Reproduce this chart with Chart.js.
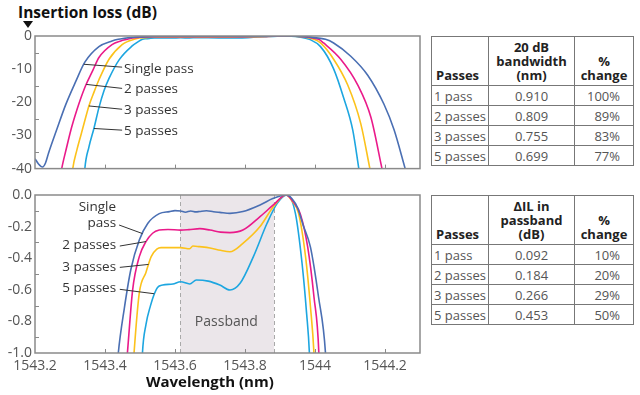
<!DOCTYPE html>
<html><head><meta charset="utf-8">
<script src="https://cdn.jsdelivr.net/npm/chart.js@4.4.1/dist/chart.umd.min.js"></script>
<style>
html,body{margin:0;padding:0;background:#fff;}
body{width:640px;height:395px;position:relative;overflow:hidden;font-family:"Open Sans",sans-serif;}
canvas{position:absolute;left:0;}
#title{position:absolute;left:18px;top:1px;font:bold 15.5px "Open Sans";line-height:22px;color:#111;white-space:nowrap;}
#tri{position:absolute;left:23px;top:21px;width:0;height:0;border-left:5px solid transparent;border-right:5px solid transparent;border-top:7px solid #111;}
#xtitle{position:absolute;left:146px;top:371px;font:bold 15px "Open Sans";line-height:21px;color:#111;white-space:nowrap;}
table{position:absolute;border-collapse:collapse;font-family:"Open Sans";font-size:13px;table-layout:fixed;}
td,th{border:1px solid #777;padding:0;overflow:hidden;white-space:nowrap;}
th{font-weight:bold;color:#222;line-height:14px;vertical-align:bottom;padding-bottom:3px;}
td{color:#555;line-height:18px;height:19px;}
.c0{text-align:left;padding-left:2px;}
.c1{text-align:center;}
.c2{text-align:right;padding-right:13px;}
</style>
</head><body>
<div id="title">Insertion loss (dB)</div>
<div id="tri"></div>
<canvas id="top" width="425" height="180" style="top:0"></canvas>
<canvas id="bot" width="425" height="215" style="top:180px"></canvas>
<div id="xtitle">Wavelength (nm)</div>
<table id="t1" style="left:431px;top:36px;width:203px"></table>
<table id="t2" style="left:431px;top:195px;width:203px"></table>
<script>
// ---------- DATA ----------
const seriesNames = ['Single pass','2 passes','3 passes','5 passes'];
const singlePass = [
[1543.2000,-37.0],[1543.2100,-38.6],[1543.2216,-39.5],[1543.2300,-38.3],[1543.2388,-35.3],[1543.2619,-28.3],[1543.2878,-20.7],[1543.3165,-13.7],[1543.3424,-7.9],[1543.3827,-3.2],[1543.4201,-1.5],[1543.4380,-1.0],[1543.4550,-0.72],[1543.4740,-0.47],[1543.4980,-0.285],[1543.5220,-0.18],[1543.5550,-0.118],[1543.5840,-0.105],[1543.6000,-0.099],[1543.6160,-0.101],[1543.6300,-0.109],[1543.6450,-0.101],[1543.6600,-0.107],[1543.6710,-0.104],[1543.6900,-0.100],[1543.7100,-0.106],[1543.7280,-0.110],[1543.7570,-0.116],[1543.7940,-0.105],[1543.8430,-0.063],[1543.8810,-0.021],[1543.9170,0.0],[1543.9350,-0.025],[1543.9500,-0.08],[1543.9660,-0.19],[1543.9870,-0.33],[1544.0100,-0.644],[1544.0300,-1.0],[1544.0532,-2.1],[1544.1022,-6.1],[1544.1511,-11.9],[1544.1971,-20.6],[1544.2259,-28.3],[1544.2576,-40.0]
];
const twoPasses = [
[1543.2700,-44.0],[1543.2763,-40.0],[1543.2906,-33.5],[1543.3022,-28.5],[1543.3137,-24.3],[1543.3252,-20.5],[1543.3453,-14.8],[1543.3655,-10.3],[1543.3827,-6.5],[1543.4201,-2.6],[1543.4450,-1.5],[1543.4640,-1.0],[1543.4790,-0.60],[1543.4980,-0.39],[1543.5170,-0.295],[1543.5360,-0.242],[1543.5550,-0.222],[1543.5800,-0.218],[1543.6160,-0.222],[1543.6400,-0.219],[1543.6710,-0.213],[1543.7000,-0.222],[1543.7300,-0.235],[1543.7570,-0.238],[1543.7940,-0.222],[1543.8430,-0.137],[1543.8810,-0.063],[1543.9170,0.0],[1543.9400,-0.05],[1543.9580,-0.12],[1543.9790,-0.327],[1543.9970,-0.644],[1544.0110,-1.0],[1544.0245,-2.1],[1544.0734,-7.0],[1544.1223,-14.8],[1544.1597,-24.5],[1544.1914,-40.0]
];
const threePasses = [
[1543.3040,-44.0],[1543.3079,-40.0],[1543.3194,-34.5],[1543.3309,-30.0],[1543.3424,-25.5],[1543.3540,-21.1],[1543.3683,-17.0],[1543.3827,-13.2],[1543.4115,-7.0],[1543.4489,-2.6],[1543.4660,-1.6],[1543.4830,-1.0],[1543.4980,-0.62],[1543.5170,-0.49],[1543.5320,-0.39],[1543.5480,-0.343],[1543.5600,-0.333],[1543.6160,-0.333],[1543.6420,-0.34],[1543.6510,-0.323],[1543.6700,-0.327],[1543.7000,-0.335],[1543.7300,-0.35],[1543.7570,-0.359],[1543.7940,-0.306],[1543.8430,-0.20],[1543.8810,-0.074],[1543.9170,0.0],[1543.9350,-0.04],[1543.9530,-0.116],[1543.9730,-0.39],[1543.9870,-0.707],[1543.9970,-1.0],[1544.0158,-2.1],[1544.0532,-7.0],[1544.0935,-14.8],[1544.1309,-26.5],[1544.1568,-40.0]
];
const fivePasses = [
[1543.3400,-44.0],[1543.3424,-40.0],[1543.3540,-33.5],[1543.3683,-27.9],[1543.3827,-21.6],[1543.3971,-16.5],[1543.4115,-12.8],[1543.4403,-7.2],[1543.4777,-3.0],[1543.4950,-1.7],[1543.5070,-1.0],[1543.5170,-0.82],[1543.5300,-0.70],[1543.5410,-0.625],[1543.5500,-0.585],[1543.5650,-0.57],[1543.5940,-0.563],[1543.6160,-0.549],[1543.6420,-0.563],[1543.6610,-0.538],[1543.6950,-0.545],[1543.7280,-0.570],[1543.7570,-0.601],[1543.7860,-0.559],[1543.8240,-0.39],[1543.8630,-0.179],[1543.8920,-0.053],[1543.9200,0.0],[1543.9440,-0.116],[1543.9630,-0.432],[1543.9760,-0.749],[1543.9840,-1.0],[1544.0158,-3.2],[1544.0532,-9.9],[1544.0820,-18.7],[1544.1079,-28.4],[1544.1252,-40.0]
];
const xTicks = [1543.2,1543.4,1543.6,1543.8,1544.0,1544.2];
const xTickLabels = ['1543.2','1543.4','1543.6','1543.8','1544','1544.2'];
const topYTicks = [0,-10,-20,-30,-40];
const topYLabels = ['0','-10','-20','-30','-40'];
const topYMinor = [-5,-15,-25,-35];
const botYTicks = [0,-0.2,-0.4,-0.6,-0.8,-1.0];
const botYLabels = ['0.0','-0.2','-0.4','-0.6','-0.8','-1.0'];
const botYMinor = [-0.1,-0.3,-0.5,-0.7,-0.9];
const passband = [1543.615,1543.883];
const passbandText = 'Passband';
// tables
const tablePasses = ['1 pass','2 passes','3 passes','5 passes'];
const bandwidth20dB = ['0.910','0.809','0.755','0.699'];
const bandwidthChange = ['100%','89%','83%','77%'];
const deltaIL = ['0.092','0.184','0.266','0.453'];
const deltaILChange = ['10%','20%','29%','50%'];

// ---------- STYLE ----------
const colors = ['#4a6fb3','#ea1a8a','#fcc21b','#1da6e0'];
const allSeries = [singlePass,twoPasses,threePasses,fivePasses];
const FONT = '"Open Sans", sans-serif';

function interpY(series, x){
  for(let i=1;i<series.length;i++){
    if(series[i][0]>=x){const a=series[i-1],b=series[i];return a[1]+(b[1]-a[1])*(x-a[0])/(b[0]-a[0]);}
  }
  return series[series.length-1][1];
}

// annotation placements (data units)
const topNotes = [
 {text:['Single pass'],s:0,cx:1543.3396,lx:1543.4489,ly:-9.4,tx:1543.4546,ty:[-9.9],align:'left'},
 {text:['2 passes'],s:1,cx:1543.3462,lx:1543.4489,ly:-15.8,tx:1543.4546,ty:[-16.0],align:'left'},
 {text:['3 passes'],s:2,cx:1543.3540,lx:1543.4489,ly:-22.1,tx:1543.4546,ty:[-22.5],align:'left'},
 {text:['5 passes'],s:3,cx:1543.3683,lx:1543.4489,ly:-28.4,tx:1543.4546,ty:[-28.6],align:'left'}
];
const botNotes = [
 {text:['Single','pass'],s:0,cx:1543.5073,lx:1543.4403,ly:-0.19,tx:1543.4317,ty:[-0.074,-0.179],align:'right'},
 {text:['2 passes'],s:1,cx:1543.5171,lx:1543.4423,ly:-0.323,tx:1543.4317,ty:[-0.316],align:'right'},
 {text:['3 passes'],s:2,cx:1543.5246,lx:1543.4423,ly:-0.458,tx:1543.4317,ty:[-0.454],align:'right'},
 {text:['5 passes'],s:3,cx:1543.5410,lx:1543.4423,ly:-0.597,tx:1543.4317,ty:[-0.59],align:'right'}
];

const decor = {
  id:'decor',
  beforeDatasetsDraw(chart,args,o){
    if(!o.band) return;
    const {ctx,chartArea:a,scales:{x,y}} = chart;
    const x0=x.getPixelForValue(o.band[0]), x1=x.getPixelForValue(o.band[1]);
    ctx.save();
    ctx.fillStyle='#ebe6ea';
    ctx.fillRect(x0,a.top,x1-x0,a.bottom-a.top);
    ctx.strokeStyle='#a9a9a9';ctx.lineWidth=1;ctx.setLineDash([4,3]);
    [x0,x1].forEach(px=>{ctx.beginPath();ctx.moveTo(Math.round(px)+0.5,a.top);ctx.lineTo(Math.round(px)+0.5,a.bottom);ctx.stroke();});
    ctx.setLineDash([]);
    ctx.fillStyle='#555';ctx.font='14px '+FONT;ctx.textAlign='center';ctx.textBaseline='middle';
    ctx.fillText(o.bandText,x.getPixelForValue(o.bandPos[0]),y.getPixelForValue(o.bandPos[1]));
    ctx.restore();
  },
  afterDatasetsDraw(chart,args,o){
    const {ctx,chartArea:a,scales:{x,y}} = chart;
    ctx.save();
    ctx.strokeStyle='#8a8a8a';ctx.lineWidth=1;
    ctx.beginPath();
    o.xt.forEach(v=>{const p=Math.round(x.getPixelForValue(v))+0.5; if(p>a.left+2&&p<a.right-2){ctx.moveTo(p,a.bottom);ctx.lineTo(p,a.bottom-4);}});
    o.ym.forEach(v=>{const p=Math.round(y.getPixelForValue(v))+0.5; ctx.moveTo(a.left,p);ctx.lineTo(a.left+4,p);});
    ctx.stroke();
    ctx.lineWidth=1.5;ctx.strokeStyle='#8a8a8a';
    ctx.strokeRect(a.left,a.top,a.right-a.left,a.bottom-a.top);
    ctx.strokeStyle='#333';ctx.lineWidth=1;ctx.fillStyle='#333';
    ctx.font='13.5px '+FONT;ctx.textBaseline='middle';
    o.notes.forEach(n=>{
      const cy=interpY(allSeries[n.s],n.cx);
      ctx.beginPath();ctx.moveTo(x.getPixelForValue(n.cx),y.getPixelForValue(cy));
      ctx.lineTo(x.getPixelForValue(n.lx),y.getPixelForValue(n.ly));ctx.stroke();
      ctx.textAlign=n.align;
      n.text.forEach((t,i)=>ctx.fillText(t,x.getPixelForValue(n.tx),y.getPixelForValue(n.ty[i])));
    });
    ctx.restore();
  }
};

function makeDatasets(){
  return allSeries.map((d,i)=>({label:seriesNames[i],data:d,borderColor:colors[i],borderWidth:1.6,
    pointRadius:0,fill:false,cubicInterpolationMode:'monotone'}));
}
function yScale(min,max,ticks,labels){
  return {type:'linear',min:min,max:max,
    afterFit(s){s.width=35;},
    afterBuildTicks(s){s.ticks=ticks.map(v=>({value:v}));},
    grid:{display:false,drawTicks:false},border:{display:false},
    ticks:{padding:3,color:'#555',font:{family:FONT,size:14},callback:(v,i)=>labels[i]}};
}
function xScale(show,h){
  return {type:'linear',min:1543.2,max:1544.3,
    afterFit(s){s.height=h;},
    afterBuildTicks(s){s.ticks=xTicks.map(v=>({value:v}));},
    grid:{display:false,drawTicks:false},border:{display:false},
    ticks:{display:show,padding:5,color:'#555',maxRotation:0,autoSkip:false,font:{family:FONT,size:14},callback:(v,i)=>xTickLabels[i]}};
}
const common = {responsive:false,animation:false,devicePixelRatio:1,
  plugins:{legend:{display:false},tooltip:{enabled:false}}};

new Chart(document.getElementById('top'),{type:'line',data:{datasets:makeDatasets()},
  options:Object.assign({},common,{
    layout:{padding:{top:36,right:5,bottom:7,left:0}},
    scales:{x:xScale(false,0),y:yScale(-40,0,topYTicks,topYLabels)},
    plugins:Object.assign({},common.plugins,{decor:{xt:xTicks,ym:topYMinor,notes:topNotes}})
  }),plugins:[decor]});

new Chart(document.getElementById('bot'),{type:'line',data:{datasets:makeDatasets()},
  options:Object.assign({},common,{
    layout:{padding:{top:15,right:5,bottom:0,left:0}},
    scales:{x:xScale(true,42),y:yScale(-1,0,botYTicks,botYLabels)},
    plugins:Object.assign({},common.plugins,{decor:{xt:xTicks,ym:botYMinor,notes:botNotes,
      band:passband,bandText:passbandText,bandPos:[1543.7468,-0.802]}})
  }),plugins:[decor]});

function buildTable(id,head,col1,col2,rowH){
  const t=document.getElementById(id);
  let h='<colgroup><col style="width:57px"><col style="width:86px"><col style="width:59px"></colgroup>';
  h+='<tr style="height:49px"><th class="c0" style="padding-left:4px">Passes</th><th class="c1">'+head[0]+'</th><th class="c1">'+head[1]+'</th></tr>';
  tablePasses.forEach((p,i)=>{h+='<tr style="height:'+rowH[i]+'px"><td class="c0">'+p+'</td><td class="c1">'+col1[i]+'</td><td class="c2">'+col2[i]+'</td></tr>';});
  t.innerHTML=h;
}
buildTable('t1',['20 dB<br>bandwidth<br>(nm)','%<br>change'],bandwidth20dB,bandwidthChange,[20,20,20,19]);
buildTable('t2',['&Delta;IL in<br>passband<br>(dB)','%<br>change'],deltaIL,deltaILChange,[20,20,19,20]);
</script>
</body></html>
